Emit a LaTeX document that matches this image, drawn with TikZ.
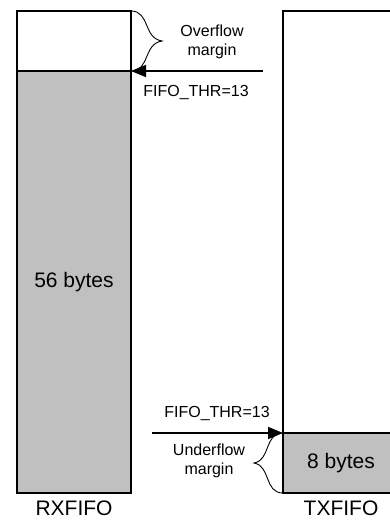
\documentclass[tikz,border=0pt]{standalone}
\usepackage{fontspec}
\setmainfont{Liberation Sans}
\usepackage{xcolor}
\usetikzlibrary{positioning,arrows.meta}
\definecolor{fifogray}{RGB}{192,192,192}
\definecolor{fifoline}{RGB}{0,0,0}

\begin{document}
\begin{tikzpicture}[x=1pt, y=-1pt, fifo/.style={draw=fifoline, line width=1.6pt, inner sep=0pt, outer sep=0pt, minimum width=114pt, font=\fontsize{21}{24}\selectfont}, thr/.style={-{Triangle[length=15pt,width=12pt]}, draw=fifoline, line width=1.6pt}, brace/.style={draw=fifoline, line width=0.9pt}, note/.style={align=center, inner sep=0pt, font=\fontsize{16}{19}\selectfont}, label/.style={inner sep=0pt, font=\fontsize{21}{24}\selectfont}]
\useasboundingbox (0,0) rectangle (390,520);
\clip (0,0) rectangle (390,520);
% RXFIFO
\node[fifo, fill=white, minimum height=60pt] (rxmargin) at (74,41) {};
\node[fifo, fill=fifogray, minimum height=422pt] (rxdata) at (74,282) {56 bytes};
\node[label] (rxname) at (74,508) {RXFIFO};
% TXFIFO
\node[fifo, fill=white, minimum width=116pt, minimum height=422pt] (txfree) at (341,222) {};
\node[fifo, fill=fifogray, minimum width=116pt, minimum height=60pt] (txdata) at (341,463) {8 bytes};
\node[label] (txname) at (341,508) {TXFIFO};
% thresholds
\coordinate (rxthr) at (263,71);
\coordinate (txthr) at (152,433);
\draw[thr] (rxthr) -- (rxmargin.south east);
\draw[thr] (txthr) -- (txdata.north west);
\node[note] (rxthrtext) at (196,92) {FIFO\_THR=13};
\node[note] (txthrtext) at (217,413) {FIFO\_THR=13};
% margins
\coordinate (overtip) at (162,41);
\coordinate (undertip) at (254,463);
\draw[brace] (rxmargin.north east) .. controls (150,11) and (143,38) .. (overtip) .. controls (143,44) and (150,71) .. (rxmargin.south east);
\draw[brace] (txdata.north west) .. controls (264,433) and (271,460) .. (undertip) .. controls (271,466) and (264,493) .. (txdata.south west);
\node[note] (overtext) at (212,42) {Overflow\\margin};
\node[note] (undertext) at (209,461) {Underflow\\margin};
\end{tikzpicture}
\end{document}
